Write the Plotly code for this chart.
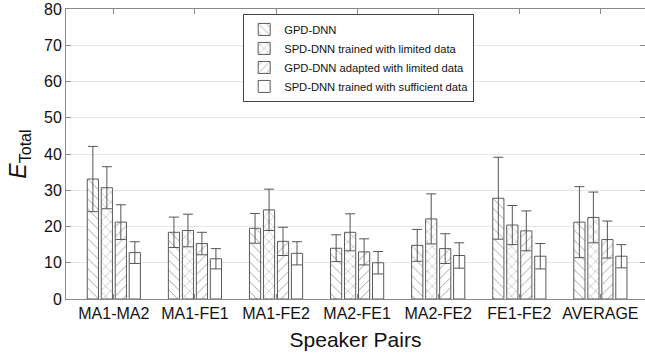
import plotly.graph_objects as go

categories = ["MA1-MA2", "MA1-FE1", "MA1-FE2", "MA2-FE1", "MA2-FE2", "FE1-FE2", "AVERAGE"]
series_names = ["GPD-DNN", "SPD-DNN trained with limited data",
                "GPD-DNN adapted with limited data", "SPD-DNN trained with sufficient data"]
gpd = [33.1, 18.4, 19.5, 14.0, 14.8, 27.8, 21.2]
gpd_err = [9.0, 4.2, 4.1, 3.7, 4.4, 11.3, 9.8]
spd_lim = [30.7, 18.9, 24.6, 18.4, 22.1, 20.4, 22.5]
spd_lim_err = [5.8, 4.5, 5.7, 5.1, 6.9, 5.4, 7.0]
gpd_ad = [21.2, 15.3, 15.9, 13.0, 13.9, 18.8, 16.4]
gpd_ad_err = [4.8, 3.1, 3.9, 3.6, 4.1, 5.5, 5.1]
spd_suf = [12.8, 11.1, 12.6, 10.0, 12.0, 11.8, 11.8]
spd_suf_err = [3.0, 2.8, 3.2, 3.1, 3.5, 3.5, 3.2]
y_ticks = [0, 10, 20, 30, 40, 50, 60, 70, 80]

values = [gpd, spd_lim, gpd_ad, spd_suf]
errors = [gpd_err, spd_lim_err, gpd_ad_err, spd_suf_err]
shapes = ["\\", "x", "/", ""]

fig = go.Figure()
for name, v, e, sh in zip(series_names, values, errors, shapes):
    fig.add_trace(go.Bar(
        x=categories, y=v, name=name,
        marker=dict(color="white",
                    line=dict(color="#5a5a5a", width=1),
                    pattern=dict(shape=sh, fgcolor="#444444", bgcolor="white",
                                 size=7, solidity=0.14)),
        error_y=dict(type="data", array=e, visible=True, color="#555555",
                     thickness=1, width=5),
    ))

axis_common = dict(showline=True, linecolor="#888888", linewidth=1, mirror="ticks",
                   ticks="inside", tickcolor="#888888", ticklen=5, automargin=False,
                   tickfont=dict(family="Liberation Sans, Arial", size=16, color="#111111"))

fig.update_layout(
    width=645, height=357,
    margin=dict(l=66, r=0, t=9, b=58),
    paper_bgcolor="white", plot_bgcolor="white",
    barmode="group", bargap=0.31, bargroupgap=0.2,
    font=dict(family="Liberation Sans, Arial", color="#111111"),
    xaxis=dict(range=[-0.59, 6.55], title=dict(text="Speaker Pairs",
               font=dict(size=21), standoff=11), **axis_common),
    yaxis=dict(range=[0, 80], tickvals=y_ticks, showgrid=True, gridcolor="#e6e6e6",
               zeroline=False,
               title=dict(text="<i>E</i><sub>Total</sub>", font=dict(size=23), standoff=10),
               **axis_common),
    legend=dict(x=0.306, y=0.983, xanchor="left", yanchor="top",
                bordercolor="#444444", borderwidth=1, bgcolor="white",
                font=dict(size=11.2), tracegroupgap=0, itemwidth=30),
    showlegend=True,
)

fig.write_html("out.html", config={"displayModeBar": False},
               post_script="document.body.style.margin='0px';document.body.style.overflow='hidden';")
